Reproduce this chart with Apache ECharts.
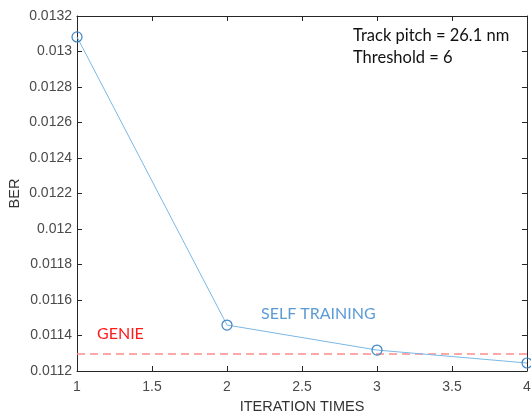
<!DOCTYPE html>
<html><head><meta charset="utf-8">
<script src="https://cdn.jsdelivr.net/npm/echarts@6/dist/echarts.min.js"></script>
<style>html,body{margin:0;padding:0;background:#fff}#c{width:531px;height:415px}</style>
</head><body><div id="c"></div>
<script>
const iterations = [1, 2, 3, 4];
const selfTrainingBER = [0.013082, 0.011459, 0.011318, 0.011245];
const genieBER = 0.011296;
const xTicks = [1, 1.5, 2, 2.5, 3, 3.5, 4];
const yTicks = [0.0112, 0.0114, 0.0116, 0.0118, 0.012, 0.0122, 0.0124, 0.0126, 0.0128, 0.013, 0.0132];

const axisColor = '#4a4a4a';
const fmt = v => String(parseFloat(v.toFixed(5)));
const chart = echarts.init(document.getElementById('c'), null, {renderer: 'canvas'});
const grid = {left: 77, right: 4, top: 16, bottom: 44, containLabel: false, outerBoundsMode: 'none'};
chart.setOption({
  animation: false,
  grid: grid,
  xAxis: [{
    type: 'value', min: xTicks[0], max: xTicks[xTicks.length-1], interval: 0.5,
    name: 'ITERATION TIMES', nameLocation: 'middle', nameGap: 28, nameMoveOverlap: false,
    nameTextStyle: {color: '#333', fontSize: 14.5, fontFamily: 'Liberation Sans'},
    axisLine: {lineStyle: {color: '#262626'}}, axisTick: {inside: true, length: 5, lineStyle: {color: '#262626'}},
    axisLabel: {color: axisColor, fontSize: 14, fontFamily: 'Liberation Sans', formatter: fmt, margin: 9},
    splitLine: {show: false}
  }, {
    type: 'value', position: 'top', min: 1, max: 4, interval: 0.5,
    axisLine: {show: true, lineStyle: {color: '#262626'}}, axisTick: {inside: true, length: 5, lineStyle: {color: '#262626'}},
    axisLabel: {show: false}, splitLine: {show: false}
  }],
  yAxis: [{
    type: 'value', min: yTicks[0], max: yTicks[yTicks.length-1], interval: 0.0002,
    name: 'BER', nameLocation: 'middle', nameGap: 55, nameRotate: 90, nameMoveOverlap: false,
    nameTextStyle: {color: '#333', fontSize: 14.5, fontFamily: 'Liberation Sans'},
    axisLine: {show: true, lineStyle: {color: '#262626'}}, axisTick: {show: true, inside: true, length: 5, lineStyle: {color: '#262626'}},
    axisLabel: {color: axisColor, fontSize: 14, fontFamily: 'Liberation Sans', formatter: fmt, margin: 5},
    splitLine: {show: false}
  }, {
    type: 'value', position: 'right', min: yTicks[0], max: yTicks[yTicks.length-1], interval: 0.0002,
    axisLine: {show: true, lineStyle: {color: '#262626'}}, axisTick: {show: true, inside: true, length: 5, lineStyle: {color: '#262626'}},
    axisLabel: {show: false}, splitLine: {show: false}
  }],
  series: [{
    type: 'line', name: 'GENIE',
    data: [[xTicks[0], genieBER], [xTicks[xTicks.length-1], genieBER]],
    symbol: 'none', lineStyle: {color: '#ff8c8c', width: 1.5, type: [8, 5]}, z: 2
  }, {
    type: 'line', name: 'SELF TRAINING',
    data: iterations.map((x, i) => [x, selfTrainingBER[i]]),
    symbol: 'circle', symbolSize: 10, showAllSymbol: true,
    lineStyle: {color: '#7ab8e6', width: 1},
    itemStyle: {color: 'rgba(255,255,255,0)', borderColor: '#3d85c6', borderWidth: 1.2},
    z: 3
  }],
  graphic: [
    {type: 'text', left: 353, top: 25, style: {text: 'Track pitch = 26.1 nm\nThreshold = 6', fill: '#111', fontSize: 16.5, lineHeight: 22, fontFamily: 'Lato'}},
    {type: 'text', left: 261, top: 306, style: {text: 'SELF TRAINING', fill: '#5b9bd5', fontSize: 16, fontFamily: 'Lato'}},
    {type: 'text', left: 97, top: 326, style: {text: 'GENIE', fill: '#ff1a1a', fontSize: 16, fontFamily: 'Lato'}}
  ]
});
</script></body></html>
